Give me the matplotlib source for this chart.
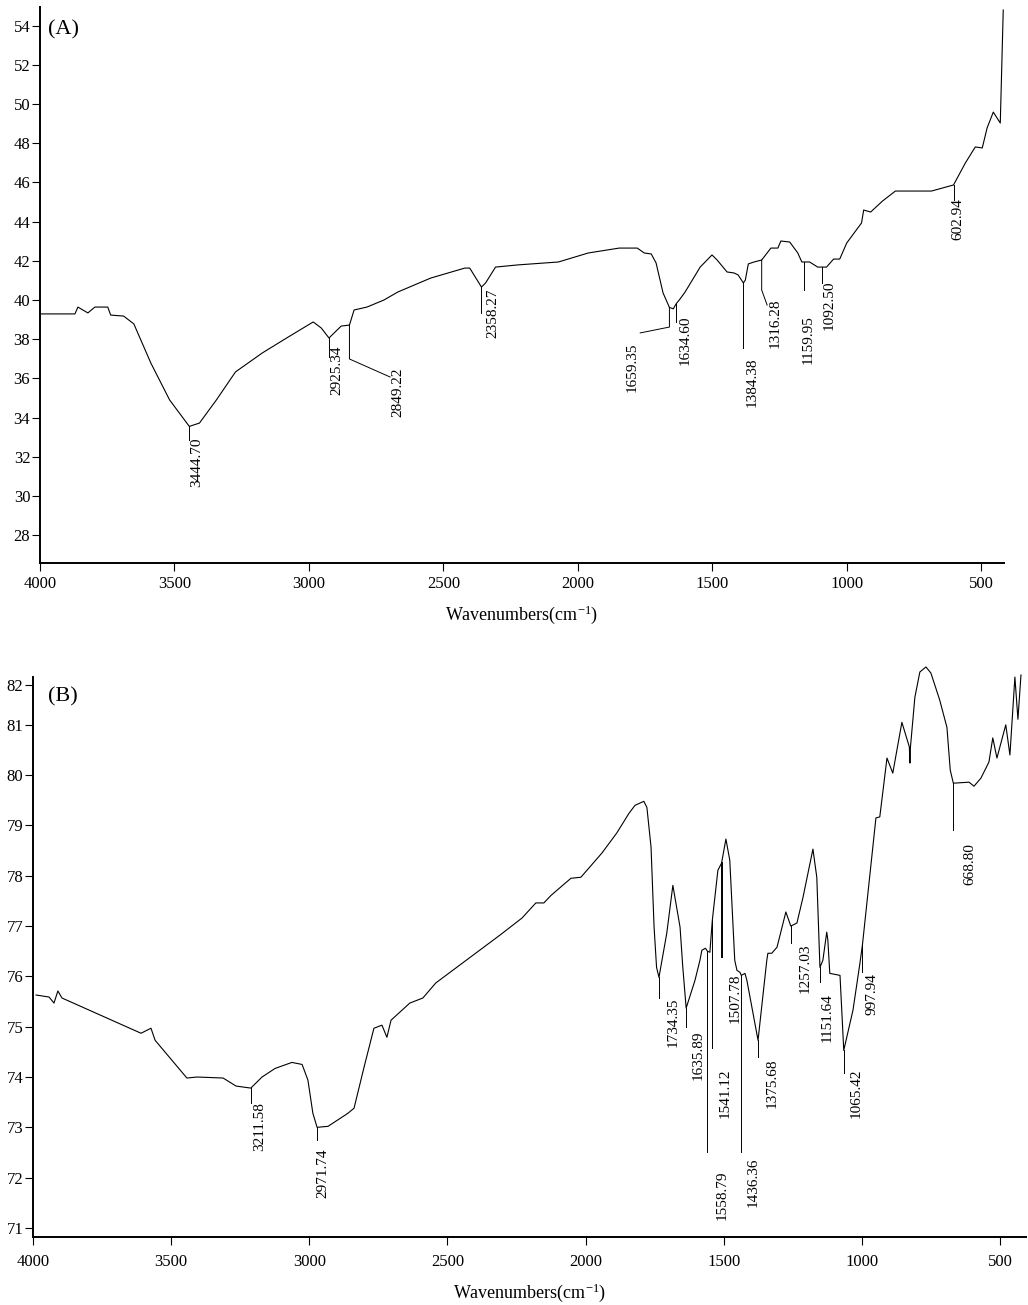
import numpy as np
import matplotlib.pyplot as plt

plt.rcParams['font.family'] = 'Liberation Serif'
plt.rcParams['mathtext.fontset'] = 'custom'
plt.rcParams['mathtext.rm'] = 'Liberation Serif'
plt.rcParams['mathtext.it'] = 'Liberation Serif:italic'

# spectre (A)
wn_a = np.array([4000, 3870, 3859, 3822, 3796, 3748, 3737, 3689, 3651, 3588,
                 3518, 3444.70, 3407, 3344, 3273, 3173, 3077, 2984, 2954, 2925.34,
                 2906, 2880, 2849.22, 2832, 2784, 2721, 2669, 2547, 2420, 2402,
                 2358.27, 2343, 2306, 2224, 2072, 1961, 1846, 1779, 1753, 1727,
                 1709, 1683, 1659.35, 1645, 1634.60, 1620, 1601, 1545, 1501, 1482,
                 1445, 1419, 1404, 1384.38, 1377, 1366, 1345, 1316.28, 1282, 1256,
                 1245, 1212, 1182, 1167, 1159.95, 1138, 1108, 1092.50, 1075, 1049,
                 1026, 1000, 945, 937, 911, 867, 819, 685, 602.94, 559,
                 522, 496, 478, 455, 429, 418])
t_a = np.array([39.29, 39.29, 39.64, 39.34, 39.64, 39.64, 39.23, 39.18, 38.78, 36.79,
                34.90, 33.55, 33.72, 34.90, 36.33, 37.30, 38.11, 38.88, 38.57, 38.06,
                38.32, 38.67, 38.72, 39.49, 39.64, 40.00, 40.41, 41.12, 41.63, 41.63,
                40.66, 40.87, 41.68, 41.79, 41.94, 42.40, 42.65, 42.65, 42.40, 42.35,
                41.89, 40.36, 39.62, 39.55, 39.80, 40.05, 40.41, 41.68, 42.30, 42.04,
                41.43, 41.38, 41.28, 40.87, 41.02, 41.84, 41.94, 42.04, 42.65, 42.65,
                43.01, 42.96, 42.40, 41.94, 41.94, 41.94, 41.68, 41.68, 41.68, 42.09,
                42.09, 42.91, 43.93, 44.59, 44.49, 45.05, 45.56, 45.56, 45.87, 46.99,
                47.81, 47.76, 48.78, 49.59, 49.03, 54.80])

# spectre (B)
wn_b = np.array([3989, 3942, 3924, 3910, 3895, 3609, 3573, 3558, 3443, 3406,
                 3312, 3265, 3211.58, 3171, 3124, 3063, 3026, 3005, 2987, 2971.74,
                 2932, 2860, 2838, 2802, 2766, 2737, 2719, 2704, 2636, 2589,
                 2542, 2310, 2230, 2180, 2151, 2125, 2053, 2017, 1941, 1887,
                 1843, 1821, 1789, 1778, 1763, 1752, 1743, 1734.35, 1706, 1684,
                 1658, 1648, 1635.89, 1604, 1586, 1579, 1566, 1558.79, 1550, 1541.12,
                 1521, 1507.78, 1492, 1478, 1460, 1452, 1441, 1436.36, 1423, 1416,
                 1375.68, 1344, 1340, 1326, 1307, 1275, 1257.03, 1235, 1213, 1177,
                 1163, 1151.64, 1141, 1127, 1123, 1116, 1079, 1065.42, 1032, 1007,
                 997.94, 949, 935, 909, 888, 855, 828, 826, 824, 808,
                 790, 768, 750, 718, 692, 680, 668.80, 612, 594, 569,
                 540, 526, 511, 479, 464, 446, 435, 424])
t_b = np.array([75.63, 75.59, 75.47, 75.71, 75.57, 74.87, 74.97, 74.73, 73.98, 74.00,
                73.98, 73.82, 73.78, 74.00, 74.17, 74.29, 74.25, 73.94, 73.28, 73.00,
                73.02, 73.28, 73.38, 74.19, 74.97, 75.03, 74.79, 75.13, 75.47, 75.57,
                75.87, 76.82, 77.16, 77.46, 77.46, 77.61, 77.95, 77.97, 78.45, 78.85,
                79.24, 79.40, 79.48, 79.36, 78.57, 76.98, 76.18, 75.98, 76.86, 77.81,
                76.98, 76.18, 75.37, 75.92, 76.32, 76.52, 76.56, 76.50, 76.48, 77.12,
                78.11, 78.25, 78.73, 78.31, 76.32, 76.12, 76.08, 76.02, 76.06, 75.92,
                74.73, 76.32, 76.46, 76.46, 76.58, 77.28, 77.00, 77.06, 77.57, 78.53,
                77.97, 76.18, 76.32, 76.88, 76.72, 76.06, 76.02, 74.53, 75.33, 76.26,
                76.62, 79.15, 79.17, 80.34, 80.04, 81.05, 80.56, 80.24, 80.56, 81.55,
                82.05, 82.15, 82.03, 81.49, 80.95, 80.10, 79.84, 79.86, 79.78, 79.94,
                80.26, 80.74, 80.34, 81.00, 80.40, 81.95, 81.11, 81.99])

pics_a = [3444.70, 2925.34, 2849.22, 2358.27, 1659.35, 1634.60, 1384.38,
          1316.28, 1159.95, 1092.50, 602.94]
pics_b = [3211.58, 2971.74, 1734.35, 1635.89, 1558.79, 1541.12, 1507.78,
          1436.36, 1375.68, 1257.03, 1151.64, 1065.42, 997.94, 668.80]

xticks = [4000, 3500, 3000, 2500, 2000, 1500, 1000, 500]
yticks_a = [28, 30, 32, 34, 36, 38, 40, 42, 44, 46, 48, 50, 52, 54]
yticks_b = [71, 72, 73, 74, 75, 76, 77, 78, 79, 80, 81, 82]

# traits de repere : points apres le pic, puis position du texte
traits_a = [[(3444.70, 32.86)], [(2925.34, 37.09)],
            [(2849.22, 36.99), (2698, 36.07)], [(2358.27, 39.34)],
            [(1659.35, 38.62), (1768, 38.32)], [(1634.60, 38.88)],
            [(1384.38, 37.55)], [(1316.28, 40.51), (1296, 39.74)],
            [(1159.95, 40.51)], [(1092.50, 40.87)], [(602.94, 45.10)]]
textes_a = [(3418, 32.96), (2895, 37.70), (2669, 36.53), (2316, 40.61),
            (1797, 37.81), (1601, 39.23), (1352, 37.09), (1266, 40.10),
            (1145, 39.23), (1067, 41.02), (588, 45.20)]
fins_b = [73.48, 72.74, 75.57, 74.99, 72.50, 74.57, 76.38, 72.50, 74.39,
          76.66, 75.88, 74.08, 76.08, 78.91]
textes_b = [(3178, 73.50), (2950, 72.58), (1684, 75.59), (1593, 74.93),
            (1506, 72.15), (1496, 74.17), (1459, 76.06), (1394, 72.41),
            (1325, 74.37), (1206, 76.66), (1126, 75.67), (1022, 74.17),
            (964, 76.06), (609, 78.65)]


def axe(ax, wn, t, pad):
    ax.plot(wn, t, color='black', lw=0.8, clip_on=False)
    for s in ['top', 'right']:
        ax.spines[s].set_visible(False)
    for s in ['left', 'bottom']:
        ax.spines[s].set_linewidth(1.4)
    ax.tick_params(direction='out', length=5.5, width=0.8, labelsize=12)
    ax.tick_params(axis='y', pad=1.5)
    ax.tick_params(axis='x', pad=pad)
    ax.set_xticks(xticks)
    ax.set_xlabel(r'Wavenumbers(cm$^{-1}$)', fontsize=13, labelpad=8)


def hauteur(wn, t, x):
    return np.interp(x, wn[::-1], t[::-1])


fig = plt.figure(figsize=(10.28, 13.05), dpi=100)

ax = fig.add_axes([0.0389, 0.5686, 0.9378, 0.4260])
axe(ax, wn_a, t_a, 4)
ax.set_xlim(4000, 415)
ax.set_ylim(26.58, 54.95)
ax.set_yticks(yticks_a)
for p, tr, (xt, yt) in zip(pics_a, traits_a, textes_a):
    xs = [p] + [q[0] for q in tr]
    ys = [hauteur(wn_a, t_a, p)] + [q[1] for q in tr]
    ax.plot(xs, ys, color='black', lw=0.7)
    ax.text(xt, yt, f'{p:.2f}', rotation=90, ha='center', va='top', fontsize=11)
fig.text(48 / 1028, 1 - 30 / 1305, '(A)', fontsize=16, ha='left', va='center')

ax = fig.add_axes([0.0321, 0.0521, 0.9659, 0.4291])
axe(ax, wn_b, t_b, 7)
ax.set_xlim(4000, 406)
ax.set_ylim(70.82, 81.95)
# dans l'original le 82 est un peu plus bas que la graduation lineaire
ax.set_yticks(yticks_b[:-1] + [81.79])
ax.set_yticklabels([str(v) for v in yticks_b])
for p, f, (xt, yt) in zip(pics_b, fins_b, textes_b):
    lw = 1.4 if p == 1507.78 else 0.7
    ax.plot([p, p], [hauteur(wn_b, t_b, p), f], color='black', lw=lw)
    ax.text(xt, yt, f'{p:.2f}', rotation=90, ha='center', va='top', fontsize=11)
fig.text(48 / 1028, 1 - 697 / 1305, '(B)', fontsize=16, ha='left', va='center')

fig.savefig('out.png', dpi=100)
